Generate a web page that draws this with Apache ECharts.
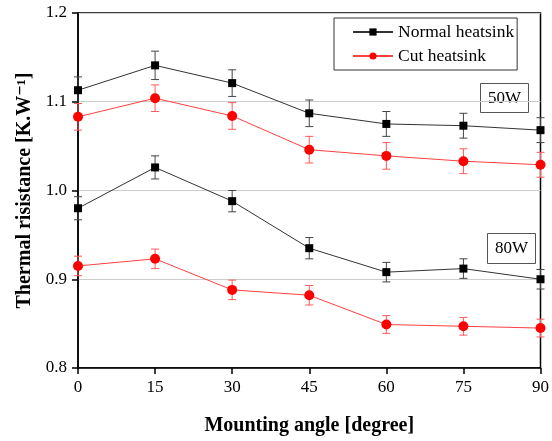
<!DOCTYPE html>
<html>
<head>
<meta charset="utf-8">
<script src="https://cdn.jsdelivr.net/npm/echarts@6/dist/echarts.min.js"></script>
<style>
  html, body { margin: 0; padding: 0; background: #fff; }
  #main { width: 552px; height: 441px; }
</style>
</head>
<body>
<div id="main"></div>
<script>
const angles = [0, 15, 30, 45, 60, 75, 90];

const normal50 = [1.113, 1.141, 1.121, 1.087, 1.075, 1.073, 1.068];
const normal50Err = [0.015, 0.016, 0.015, 0.015, 0.014, 0.014, 0.014];
const cut50 = [1.083, 1.104, 1.084, 1.046, 1.039, 1.033, 1.029];
const cut50Err = [0.015, 0.015, 0.015, 0.015, 0.015, 0.014, 0.014];

const normal80 = [0.980, 1.026, 0.988, 0.935, 0.908, 0.912, 0.900];
const normal80Err = [0.013, 0.013, 0.012, 0.012, 0.011, 0.011, 0.011];
const cut80 = [0.915, 0.923, 0.888, 0.882, 0.849, 0.847, 0.845];
const cut80Err = [0.011, 0.011, 0.011, 0.011, 0.010, 0.010, 0.010];

const FONT = '"Liberation Serif", "DejaVu Serif", serif';

function pairs(vals) {
  return angles.map((a, i) => [a, vals[i]]);
}

function errData(vals, errs) {
  return angles.map((a, i) => [a, vals[i] - errs[i], vals[i] + errs[i]]);
}

function errorSeries(vals, errs, color) {
  return {
    type: 'custom',
    data: errData(vals, errs),
    z: 1,
    silent: true,
    renderItem: function (params, api) {
      const lo = api.coord([api.value(0), api.value(1)]);
      const hi = api.coord([api.value(0), api.value(2)]);
      const w = 4;
      const style = { stroke: color, lineWidth: 1 };
      return {
        type: 'group',
        children: [
          { type: 'line', shape: { x1: lo[0], y1: lo[1], x2: hi[0], y2: hi[1] }, style: style },
          { type: 'line', shape: { x1: lo[0] - w, y1: lo[1], x2: lo[0] + w, y2: lo[1] }, style: style },
          { type: 'line', shape: { x1: hi[0] - w, y1: hi[1], x2: hi[0] + w, y2: hi[1] }, style: style }
        ]
      };
    }
  };
}

function lineSeries(name, vals, color, lineColor, symbol, size) {
  return {
    name: name,
    type: 'line',
    data: pairs(vals),
    symbol: symbol,
    symbolSize: size,
    z: 3,
    lineStyle: { color: lineColor, width: 1 },
    itemStyle: { color: color },
    emphasis: { disabled: true }
  };
}

const chart = echarts.init(document.getElementById('main'));

chart.setOption({
  animation: false,
  backgroundColor: '#fff',
  grid: { left: 78, right: 9, top: 13, bottom: 72, show: true, borderColor: '#000', borderWidth: 1.5 },
  legend: {
    orient: 'vertical',
    left: 334,
    top: 18,
    borderColor: '#333',
    borderWidth: 1,
    padding: [5, 3, 5, 18],
    itemGap: 6,
    itemWidth: 40,
    itemHeight: 9,
    textStyle: { fontFamily: FONT, fontSize: 17.5, color: '#000' },
    data: ['Normal heatsink', 'Cut heatsink']
  },
  xAxis: {
    type: 'value',
    min: 0,
    max: 90,
    interval: 15,
    name: 'Mounting angle [degree]',
    nameLocation: 'middle',
    nameGap: 48,
    nameTextStyle: { fontFamily: FONT, fontSize: 20, fontWeight: 'bold', color: '#000' },
    axisLine: { lineStyle: { color: '#000', width: 1.5 } },
    axisTick: { inside: false, length: 6, lineStyle: { color: '#000', width: 1.5 } },
    axisLabel: { fontFamily: FONT, fontSize: 17, color: '#000', margin: 11 },
    splitLine: { show: false }
  },
  yAxis: {
    type: 'value',
    min: 0.8,
    max: 1.2,
    interval: 0.1,
    name: 'Thermal risistance [K.W\u207B\u00B9]',
    nameLocation: 'middle',
    nameGap: 43,
    nameTextStyle: { fontFamily: FONT, fontSize: 20, fontWeight: 'bold', color: '#000' },
    axisLine: { lineStyle: { color: '#000', width: 1.5 } },
    axisTick: { inside: false, length: 6, lineStyle: { color: '#000', width: 1.5 } },
    axisLabel: { fontFamily: FONT, fontSize: 17, color: '#000', margin: 11, formatter: v => v.toFixed(1) },
    splitLine: { show: true, lineStyle: { color: '#cccccc', width: 1 } }
  },
  graphic: [
    {
      type: 'group', left: 480, top: 83,
      children: [
        { type: 'rect', shape: { x: 0, y: 0, width: 48, height: 29 }, style: { fill: '#fff', stroke: '#555', lineWidth: 1 } },
        { type: 'text', x: 24, y: 15, style: { text: '50W', fontFamily: FONT, fontSize: 17, fill: '#000', align: 'center', verticalAlign: 'middle' } }
      ]
    },
    {
      type: 'group', left: 487, top: 233,
      children: [
        { type: 'rect', shape: { x: 0, y: 0, width: 48, height: 30 }, style: { fill: '#fff', stroke: '#555', lineWidth: 1 } },
        { type: 'text', x: 24, y: 15, style: { text: '80W', fontFamily: FONT, fontSize: 17, fill: '#000', align: 'center', verticalAlign: 'middle' } }
      ]
    }
  ],
  series: [
    errorSeries(normal50, normal50Err, '#444'),
    errorSeries(cut50, cut50Err, '#ff5a5a'),
    errorSeries(normal80, normal80Err, '#444'),
    errorSeries(cut80, cut80Err, '#ff5a5a'),
    lineSeries('Normal heatsink', normal50, '#000', '#333', 'rect', 8),
    lineSeries('Cut heatsink', cut50, '#ff0000', '#ff4040', 'circle', 10),
    lineSeries('Normal heatsink', normal80, '#000', '#333', 'rect', 8),
    lineSeries('Cut heatsink', cut80, '#ff0000', '#ff4040', 'circle', 10)
  ]
});
</script>
</body>
</html>
